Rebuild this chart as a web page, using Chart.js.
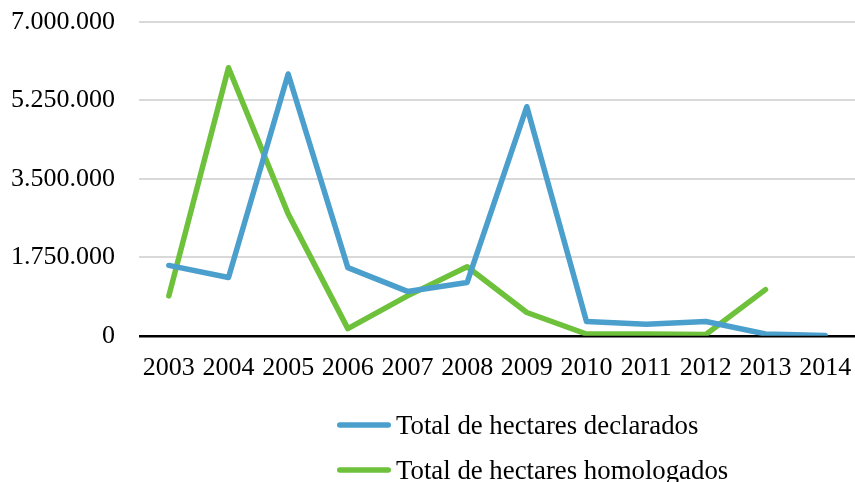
<!DOCTYPE html>
<html>
<head>
<meta charset="utf-8">
<script src="https://cdn.jsdelivr.net/npm/chart.js@4.4.1/dist/chart.umd.min.js"></script>
<style>
  html, body { margin: 0; padding: 0; background: #ffffff; }
  #wrap { position: relative; width: 855px; height: 482px; }
</style>
</head>
<body>
<div id="wrap"><canvas id="c" width="855" height="482"></canvas></div>
<script>
const years = ['2003','2004','2005','2006','2007','2008','2009','2010','2011','2012','2013','2014'];
const declarados = [1570000, 1300000, 5840000, 1520000, 990000, 1190000, 5110000, 320000, 260000, 320000, 40000, 5000];
const homologados = [890000, 5980000, 2720000, 160000, 890000, 1540000, 520000, 40000, 40000, 30000, 1030000, null];
const seriesNames = ['Total de hectares declarados', 'Total de hectares homologados'];
const yTicksMax = 7000000;
const yTicksStep = 1750000;

const FONT = "'Liberation Serif', 'Times New Roman', serif";
const BLUE = '#4B9FCD';
const GREEN = '#6EC13A';

function fmt(v) {
  return String(Math.round(v)).replace(/\B(?=(\d{3})+(?!\d))/g, '.');
}

const legendPlugin = {
  id: 'customLegend',
  afterDraw(chart) {
    const ctx = chart.ctx;
    const x0 = 337, lineLen = 54, gap = 5;
    const rows = [425, 470];
    ctx.save();
    ctx.font = '26.8px ' + FONT;
    ctx.textBaseline = 'alphabetic';
    ctx.textAlign = 'left';
    chart.data.datasets.forEach((ds, i) => {
      const y = rows[i];
      ctx.strokeStyle = ds.borderColor;
      ctx.lineWidth = 5.5;
      ctx.lineCap = 'round';
      ctx.beginPath();
      ctx.moveTo(x0 + 2.75, y);
      ctx.lineTo(x0 + lineLen - 2.75, y);
      ctx.stroke();
      ctx.fillStyle = '#000';
      ctx.fillText(ds.label, x0 + lineLen + gap, y + 8.5);
    });
    ctx.restore();
  }
};

new Chart(document.getElementById('c'), {
  type: 'line',
  data: {
    labels: years,
    datasets: [
      { label: seriesNames[0], data: declarados, borderColor: BLUE, backgroundColor: BLUE,
        borderWidth: 5.5, pointRadius: 0, tension: 0, borderCapStyle: 'round', borderJoinStyle: 'round', spanGaps: false },
      { label: seriesNames[1], data: homologados, borderColor: GREEN, backgroundColor: GREEN,
        borderWidth: 5.5, pointRadius: 0, tension: 0, borderCapStyle: 'round', borderJoinStyle: 'round', spanGaps: false }
    ]
  },
  options: {
    responsive: false,
    animation: false,
    devicePixelRatio: 1,
    layout: { padding: { top: 22, right: 0, bottom: 81, left: 0 } },
    plugins: {
      legend: { display: false },
      tooltip: { enabled: false }
    },
    scales: {
      x: {
        type: 'category',
        offset: true,
        afterFit(scale) { scale.paddingLeft = 0; scale.paddingRight = 0; },
        grid: { display: false, drawTicks: false },
        border: { display: false },
        ticks: { color: '#000', font: { family: FONT, size: 26 }, padding: 17, maxRotation: 0, autoSkip: false }
      },
      y: {
        min: 0,
        max: yTicksMax,
        afterFit(scale) { scale.width = 139; scale.paddingTop = 0; scale.paddingBottom = 0; },
        grid: {
          drawTicks: false,
          color: (c) => (c.tick && c.tick.value === 0) ? '#000000' : '#D9D9D9',
          lineWidth: (c) => (c.tick && c.tick.value === 0) ? 2.5 : 2
        },
        border: { display: false },
        ticks: {
          stepSize: yTicksStep,
          color: '#000',
          font: { family: FONT, size: 26 },
          padding: 24,
          callback: (v) => fmt(v)
        }
      }
    }
  },
  plugins: [legendPlugin]
});
</script>
</body>
</html>
